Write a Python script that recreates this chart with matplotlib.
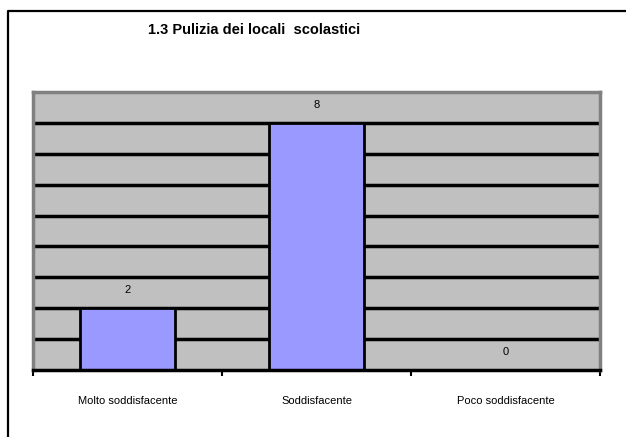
import matplotlib.pyplot as plt
from matplotlib.lines import Line2D

categories = ["Molto soddisfacente", "Soddisfacente", "Poco soddisfacente"]
values = [2, 8, 0]
title = "1.3 Pulizia dei locali  scolastici"

plt.rcParams['font.family'] = ['Liberation Sans', 'DejaVu Sans']

W, H = 626, 437
fig = plt.figure(figsize=(W / 100, H / 100), dpi=100)
ax = fig.add_axes([33 / W, 1 - 370 / H, (600 - 33) / W, (370 - 92) / H])

ax.set_facecolor('#C0C0C0')
x = list(range(len(categories)))
ax.set_xlim(-0.5, len(categories) - 0.5)
ax.set_ylim(0, 9)

for v in range(1, 9):
    ax.axhline(v, color='black', lw=2.5, zorder=1)

ax.bar(x, values, width=0.5, color='#9999FF', edgecolor='black', lw=2, zorder=2)

for xi, v in zip(x, values):
    ax.annotate(str(v), (xi, v), xytext=(0, 13), textcoords='offset points',
                ha='center', va='center', fontsize=8, zorder=3)

for side in ['left', 'right', 'top']:
    ax.spines[side].set_color('#808080')
    ax.spines[side].set_linewidth(2.5)
ax.spines['bottom'].set_color('black')
ax.spines['bottom'].set_linewidth(2.5)

ax.set_yticks([])
ax.set_xticks([-0.5, 0.5, 1.5, 2.5])
ax.set_xticklabels([])
ax.tick_params(axis='x', length=4, width=1.5, direction='out', color='black')
ax.set_xticks(x, minor=True)
ax.set_xticklabels(categories, minor=True, fontsize=8)
ax.tick_params(axis='x', which='minor', length=0, pad=19)

fig.text(148 / W, 1 - 30 / H, title, fontsize=10.5, fontweight='bold',
         ha='left', va='center')

# frame of the chart area
fig.add_artist(Line2D([8 / W, 8 / W, 1], [0, 1 - 11 / H, 1 - 11 / H],
                      transform=fig.transFigure, color='black', lw=1.6))

fig.savefig('out.png', dpi=100)
